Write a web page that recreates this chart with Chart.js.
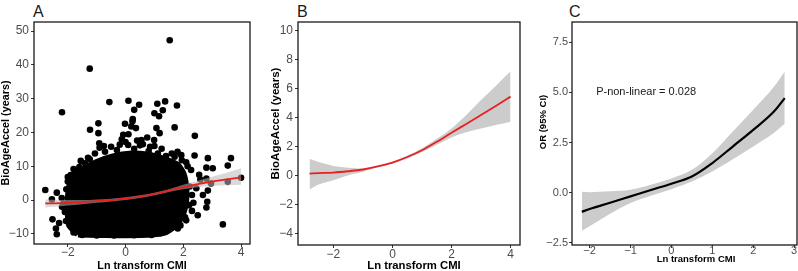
<!DOCTYPE html>
<html>
<head>
<meta charset="utf-8">
<script src="https://cdn.jsdelivr.net/npm/chart.js@4.4.1/dist/chart.umd.min.js"></script>
<style>
  html, body { margin: 0; padding: 0; background: #fff; width: 798px; height: 271px; overflow: hidden; }
  .cv { position: absolute; top: 0; }
  .lbl { position: absolute; top: 3.5px; font: 16px 'Liberation Sans', Arial, sans-serif; line-height: 16px; color: #1a1a1a; }
</style>
</head>
<body>
<div class="lbl" style="left:33px">A</div>
<div class="lbl" style="left:297px">B</div>
<div class="lbl" style="left:569px">C</div>
<canvas id="cA" class="cv" style="left:0px" width="262" height="271"></canvas>
<canvas id="cB" class="cv" style="left:264px" width="266" height="271"></canvas>
<canvas id="cC" class="cv" style="left:530px" width="268" height="271"></canvas>
<script>
// ---------------- DATA ----------------
// Panel A: scatter of BioAgeAccel vs Ln transform CMI with smooth fit
const xTicksA = [-2, 0, 2, 4];
const yTicksA = [-10, 0, 10, 20, 30, 40, 50];
// outline of the dense (fully overlapping) core of the point cloud
const blobOutlineX = [-1.65, -1.95, -2.0, -2.0, -1.95, -1.85, -1.5, -1.0, -0.5, 0.2, 0.8, 1.3, 1.8, 2.0, 2.1, 2.1, 2.0, 1.8, 1.4, 0.9, 0.0, -0.9, -1.65];
const blobOutlineY = [-10.2, -7.5, -4.0, 0.0, 4.0, 6.5, 9.0, 11.3, 12.8, 13.8, 13.4, 12.3, 10.5, 8.0, 4.0, 0.0, -4.0, -7.0, -9.5, -10.2, -10.4, -10.3, -10.2];
// individual points around the edge of the cloud and outliers
const scatterPointsA = [
  [-2.78,3.0],[-2.55,0.2],[-2.53,-5.7],[-2.41,-8.4],[-2.38,-10.1],[-2.38,2.2],[-2.21,0.6],[-2.2,-2.0],[-2.06,-6.2],[-1.8,-9.6],
  [-2.1,-3.5],[-2.05,3.2],[-2.0,5.5],[-1.9,7.4],[-1.75,8.6],[-2.15,-1.0],[-2.3,-6.8],
  [-1.23,20.8],[-0.94,22.7],[-0.94,19.8],[-0.91,16.8],[-1.24,38.9],[-2.2,26.0],[-0.56,29.0],[0.1,29.4],[0.47,28.2],
  [0.3,26.7],[0.24,23.3],[0.36,21.3],[0.1,19.5],[-0.13,18.0],[0.55,17.8],[-0.08,19.3],[-0.02,22.6],[0.2,21.8],[0.25,24.0],
  [1.53,47.3],[1.37,29.2],[1.1,28.5],[1.29,26.6],[1.78,28.0],[1.0,25.7],[1.16,24.8],[1.07,21.3],[1.18,19.8],[1.7,21.5],
  [0.99,17.8],[0.75,18.5],[0.6,16.5],[2.4,19.0],[2.39,13.2],[2.85,12.4],[3.65,12.4],[3.54,10.2],[3.02,9.4],[2.8,9.6],
  [4.0,6.6],[3.54,5.4],[2.96,4.9],[2.59,6.1],[2.8,6.4],[2.85,2.8],[2.68,1.5],[2.83,-0.5],[2.8,-2.2],[2.5,-4.5],
  [2.3,-3.2],[2.06,-5.1],[3.37,-7.2],[1.81,-8.4],[1.29,-8.6],[1.4,-7.0],[2.45,3.5],[2.55,7.5],[2.35,-0.8],
  [-1.4,10.9],[-1.24,12.1],[-1.3,12.5],[-1.06,13.8],[-0.71,14.3],[-0.5,15.8],[-0.3,14.8],[0.09,16.3],[0.3,15.2],[0.5,16.2],
  [0.8,14.5],[1.12,13.8],[1.4,13.0],[1.6,13.8],[1.93,13.3],[2.1,11.2],[2.27,8.9],[2.22,4.0],[2.3,1.5],[2.2,-1.5],
  [2.1,-6.0],[1.9,-7.5],[-1.7,-8.8],[-1.5,-10.3],[-1.0,-10.5],[-0.4,-10.5],[0.3,-10.4],[0.9,-10.3],[1.2,-9.8],
  [-0.9,15.5],[0.0,17.2],[1.0,16.0],[1.8,14.3],[-1.6,9.8],[2.15,10.0],
  [-1.55,11.6],[-0.75,16.0],[-0.2,16.4],[0.4,17.6],[0.85,15.8],[1.25,15.2],[1.7,12.8],[1.95,11.8],[-1.8,9.2],[-2.0,6.8]
];
const smoothAX = [-2.78, -2.5, -2, -1.5, -1, -0.5, 0, 0.5, 1, 1.5, 2, 2.5, 3, 3.5, 4];
const smoothAY = [-1.0, -0.95, -0.8, -0.6, -0.3, 0.0, 0.4, 1.0, 1.8, 2.8, 3.8, 4.7, 5.5, 6.1, 6.7];
const bandAUpper = [0.2, 0.1, 0.0, 0.0, 0.2, 0.4, 0.8, 1.4, 2.2, 3.2, 4.5, 5.7, 6.9, 8.1, 9.4];
const bandALower = [-2.2, -2.0, -1.6, -1.2, -0.8, -0.4, 0.0, 0.6, 1.4, 2.4, 3.2, 3.8, 4.2, 4.4, 4.5];

// Panel B: fitted curve with 95% band
const xTicksB = [-2, 0, 2, 4];
const yTicksB = [-4, -2, 0, 2, 4, 6, 8, 10];
const xB = [-2.81, -2.5, -2, -1.5, -1, -0.5, 0, 0.5, 1, 1.5, 2, 2.5, 3, 3.5, 4];
const fitB = [0.16, 0.19, 0.23, 0.32, 0.44, 0.65, 0.92, 1.3, 1.77, 2.35, 2.97, 3.58, 4.19, 4.82, 5.46];
const upperB = [1.18, 0.95, 0.69, 0.56, 0.5, 0.7, 0.97, 1.38, 1.9, 2.55, 3.27, 4.2, 5.23, 6.2, 7.2];
const lowerB = [-0.94, -0.6, -0.3, 0.05, 0.28, 0.6, 0.85, 1.2, 1.64, 2.15, 2.65, 3.0, 3.27, 3.5, 3.73];

// Panel C: OR (95% CI) restricted cubic spline
const xTicksC = [-2, -1, 0, 1, 2, 3];
const yTicksC = [-2.5, 0.0, 2.5, 5.0, 7.5];
const xC = [-2.19, -2, -1.5, -1, -0.5, 0, 0.5, 1, 1.5, 2, 2.5, 2.77];
const fitC = [-0.95, -0.81, -0.5, -0.18, 0.14, 0.45, 0.81, 1.48, 2.3, 3.13, 4.03, 4.71];
const upperC = [0.05, 0.03, 0.07, 0.15, 0.4, 0.71, 1.14, 1.97, 3.05, 4.13, 5.26, 6.04];
const lowerC = [-1.89, -1.67, -1.05, -0.51, -0.15, 0.18, 0.56, 1.06, 1.67, 2.3, 2.97, 3.43];
const annotationC = 'P-non-linear = 0.028';

// ---------------- HELPERS ----------------
const FONT = "'Liberation Sans', Arial, sans-serif";
const pts = (xs, ys) => xs.map((x, i) => ({ x: x, y: ys[i] }));
const minusFmt = s => String(s).replace('-', '\u2212');

const boxPlugin = {
  id: 'box',
  afterDraw(chart) {
    const { ctx, chartArea: a } = chart;
    ctx.save();
    ctx.strokeStyle = '#1a1a1a';
    ctx.lineWidth = 1.3;
    ctx.strokeRect(a.left, a.top, a.right - a.left, a.bottom - a.top);
    ctx.restore();
  }
};

const titlePlugin = {
  id: 'panelTitles',
  afterDraw(chart, args, o) {
    const { ctx, chartArea: a } = chart;
    ctx.save();
    ctx.fillStyle = '#000';
    ctx.textAlign = 'center';
    ctx.textBaseline = 'middle';
    if (o.x) {
      ctx.font = o.x.font;
      ctx.fillText(o.x.text, (a.left + a.right) / 2 + (o.x.dx || 0), o.x.y);
    }
    if (o.y) {
      ctx.translate(o.y.x, (a.top + a.bottom) / 2 + (o.y.dy || 0));
      ctx.rotate(-Math.PI / 2);
      ctx.font = o.y.font;
      ctx.fillText(o.y.text, 0, 0);
    }
    ctx.restore();
  }
};

const notePlugin = {
  id: 'note',
  afterDatasetsDraw(chart, args, o) {
    if (!o || !o.text) return;
    const { ctx, scales } = chart;
    ctx.save();
    ctx.fillStyle = '#1a1a1a';
    ctx.font = o.font;
    ctx.textAlign = 'left';
    ctx.textBaseline = 'middle';
    ctx.fillText(o.text, scales.x.getPixelForValue(o.x), scales.y.getPixelForValue(o.y));
    ctx.restore();
  }
};

function axis(min, max, ticks, fmt, size, isY, fitSize, pad) {
  return {
    type: 'linear', min: min, max: max,
    afterBuildTicks: s => { s.ticks = ticks.map(v => ({ value: v })); },
    afterFit: s => { if (isY) s.width = fitSize; else s.height = fitSize; },
    ticks: {
      autoSkip: false, maxRotation: 0, padding: pad,
      color: '#4d4d4d', font: { family: FONT, size: size },
      callback: v => minusFmt(fmt(v))
    },
    grid: { display: true, drawOnChartArea: false, drawTicks: true, tickLength: 3, color: '#333333', lineWidth: 1 },
    border: { display: false },
    title: { display: false }
  };
}

function baseOptions(padding, scales, titles, note) {
  return {
    responsive: false, animation: false,
    layout: { padding: padding, autoPadding: false },
    scales: scales,
    plugins: {
      legend: { display: false }, tooltip: { enabled: false },
      panelTitles: titles, note: note || {}
    },
    elements: { point: { radius: 0 } }
  };
}

// ---------------- PANEL A ----------------
new Chart(document.getElementById('cA'), {
  type: 'line',
  data: {
    datasets: [
      { data: pts(smoothAX, smoothAY), borderColor: '#e8201f', borderWidth: 1.8, pointRadius: 0, fill: false, cubicInterpolationMode: 'monotone', order: 0 },
      { data: pts(smoothAX, bandAUpper), borderWidth: 0, borderColor: 'rgba(0,0,0,0)', pointRadius: 0, fill: false, cubicInterpolationMode: 'monotone', order: 1 },
      { data: pts(smoothAX, bandALower), borderWidth: 0, borderColor: 'rgba(0,0,0,0)', pointRadius: 0, fill: '-1', backgroundColor: 'rgba(185,185,185,0.55)', cubicInterpolationMode: 'monotone', order: 2 },
      { data: scatterPointsA.map(p => ({ x: p[0], y: p[1] })), showLine: false, pointRadius: 3.3, pointBackgroundColor: '#000', pointBorderWidth: 0, order: 3 },
      { data: pts(blobOutlineX, blobOutlineY), borderColor: '#000', borderWidth: 6, borderJoinStyle: 'round', backgroundColor: '#000', fill: 'shape', pointRadius: 0, tension: 0.2, order: 4 }
    ]
  },
  options: baseOptions({ left: 0, right: 12, top: 22, bottom: 0 }, {
    x: axis(-3.17, 4.31, xTicksA, v => v, 12, false, 27, -1.5),
    y: axis(-13, 52.7, yTicksA, v => v, 12, true, 34, 2)
  }, {
    x: { text: 'Ln transform CMI', font: 'bold 10.8px ' + FONT, dx: 0, y: 266.5 },
    y: { text: 'BioAgeAccel (years)', font: 'bold 10.8px ' + FONT, x: 5.8, dy: 0 }
  }),
  plugins: [boxPlugin, titlePlugin]
});

// ---------------- PANEL B ----------------
new Chart(document.getElementById('cB'), {
  type: 'line',
  data: {
    datasets: [
      { data: pts(xB, fitB), borderColor: '#e8201f', borderWidth: 1.8, pointRadius: 0, fill: false, cubicInterpolationMode: 'monotone', order: 0 },
      { data: pts(xB, upperB), borderWidth: 0, borderColor: 'rgba(0,0,0,0)', pointRadius: 0, fill: false, cubicInterpolationMode: 'monotone', order: 1 },
      { data: pts(xB, lowerB), borderWidth: 0, borderColor: 'rgba(0,0,0,0)', pointRadius: 0, fill: '-1', backgroundColor: '#cccccc', cubicInterpolationMode: 'monotone', order: 2 }
    ]
  },
  options: baseOptions({ left: 0, right: 10, top: 22, bottom: 0 }, {
    x: axis(-3.2, 4.32, xTicksB, v => v, 12, false, 26, -0.5),
    y: axis(-4.76, 10.6, yTicksB, v => v, 12, true, 34, 2)
  }, {
    x: { text: 'Ln transform CMI', font: 'bold 11.3px ' + FONT, dx: 5, y: 266 },
    y: { text: 'BioAgeAccel (years)', font: 'bold 11.5px ' + FONT, x: 11.8, dy: -10 }
  }),
  plugins: [boxPlugin, titlePlugin]
});

// ---------------- PANEL C ----------------
new Chart(document.getElementById('cC'), {
  type: 'line',
  data: {
    datasets: [
      { data: pts(xC, fitC), borderColor: '#000', borderWidth: 2.2, pointRadius: 0, fill: false, cubicInterpolationMode: 'monotone', order: 0 },
      { data: pts(xC, upperC), borderWidth: 0, borderColor: 'rgba(0,0,0,0)', pointRadius: 0, fill: false, cubicInterpolationMode: 'monotone', order: 1 },
      { data: pts(xC, lowerC), borderWidth: 0, borderColor: 'rgba(0,0,0,0)', pointRadius: 0, fill: '-1', backgroundColor: '#cccccc', cubicInterpolationMode: 'monotone', order: 2 }
    ]
  },
  options: baseOptions({ left: 0, right: 1, top: 22, bottom: 0 }, {
    x: axis(-2.43, 3.07, xTicksC, v => v, 11, false, 26, -4),
    y: axis(-2.6, 8.5, yTicksC, v => v.toFixed(1), 11, true, 42, 1)
  }, {
    x: { text: 'Ln transform CMI', font: 'bold 9.5px ' + FONT, dx: 11.5, y: 259 },
    y: { text: 'OR (95% CI)', font: 'bold 9.5px ' + FONT, x: 13.3, dy: -11.5 }
  }, { text: annotationC, x: -1.84, y: 5.0, font: '11px ' + FONT }),
  plugins: [boxPlugin, titlePlugin, notePlugin]
});
</script>
</body>
</html>
